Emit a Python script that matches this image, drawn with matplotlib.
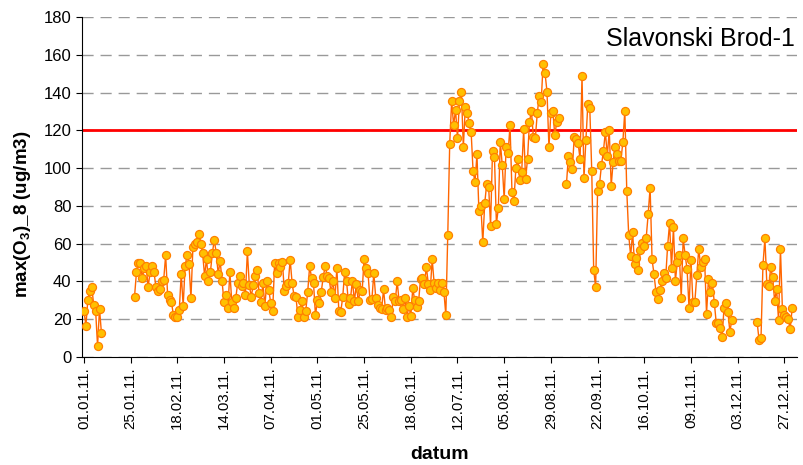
import numpy as np
import pandas as pd
import matplotlib
matplotlib.use('Agg')
import matplotlib.pyplot as plt

station = 'Slavonski Brod-1'
limit_value = 120
nan = np.nan

# daily maximum 8-hour mean O3 for 2011, ug/m3 (nan = no data)
o3_max8 = [
    24.5, 16.6, 30.2, 35.1, 37.2, 27.7, 24.5, 5.8, 25.6, 12.5,
    nan, nan, nan, nan, nan, nan, nan, nan, nan, nan, nan, nan, nan, nan, nan, nan,
    32, 45, 50, 50, 42, 47, 48, 37, 45, 48,
    45, 37, 35, 36, 40, 41, 54, 33, 30, 29,
    22, 21, 21, 25, 44, 27, 48, 54, 49, 31,
    58, 60, 61, 65, 60, 55, 43, 52, 40, 45,
    55, 62, 55, 44, 51, 40, 29, 33, 26, 45,
    29, 26, 31, 39, 43, 37.5, 39, 33, 56, 38,
    32, 38, 43, 46, 34, 29, 39, 27, 40, 35.5,
    28.6, 24.4, 49.7, 44.4, 50, 47.7, 50.3, 35, 37.5, 39,
    51.6, 39, 32.3, 31.6, 21, 25, 29.8, 21.4, 24.4, 34.3,
    48, 42, 39, 22, 30, 28.6, 34.6, 42.6, 48, 43,
    41.6, 34.3, 40, 31, 47, 24.4, 24, 31.6, 45, 40,
    28, 31, 40.5, 29.4, 38.6, 29.4, 35.5, 35, 52, 47,
    44.6, 30.2, 30.5, 44.4, 31, 27.4, 26, 25.5, 35.8, 24.7,
    26, 24.7, 21.4, 31.6, 29.8, 40, 29.4, 30.2, 25.2, 31,
    21, 27, 21.7, 36.3, 30.2, 26.5, 29.4, 41.2, 41.7, 38.5,
    47.8, 38.6, 35.5, 51.7, 39, 36.3, 39.2, 35.5, 39, 34.6,
    22.2, 64.6, 113, 135.5, 122.8, 130.8, 115.8, 135.5, 140.5, 111,
    132.2, 129, 123.7, 119.3, 98.6, 92.4, 107.3, 77.4, 80.2, 60.7,
    81.4, 91.6, 90.2, 69.6, 109.1, 105.7, 70.5, 78.8, 114, 101.6,
    83.5, 111.3, 107.8, 122.8, 87.5, 82.8, 99.9, 104.6, 93.7, 98.1,
    120.5, 94, 105, 124.6, 130.4, 116.3, 115.8, 129, 138.2, 134.8,
    155, 150.2, 140.5, 111, 129.4, 130.4, 117.5, 124.2, 126.3, nan,
    nan, nan, 91.5, 106.4, 103.4, 99.4, 116.3, 115.2, 113.1, 104.8,
    148.7, 94.5, 114.9, 133.9, 131.6, 98.6, 46, 37.2, 88, 91.6,
    101.6, 109, 119.3, 106.4, 120.2, 90.5, 103.4, 111, 107.5, 104,
    104, 114, 130.4, 88.1, 64.6, 53.5, 66, 49.2, 52.2, 46,
    56.6, 60.5, 58.9, 63.2, 75.6, 89.6, 51.7, 43.8, 34.6, 30.6,
    35.5, 40, 44.3, 42, 58.8, 70.8, 47, 68.6, 40.4, 50.5,
    54, 31.4, 62.8, 54, 46.4, 26.2, 51.4, 29, 29.3, 43.4,
    57.2, 47.8, 50.5, 51.9, 22.8, 41.1, 34.2, 39, 28.8, 17.9,
    18.2, 15.5, 10.4, 26.2, 28.8, 23.7, 13.4, 19.6, nan, nan,
    nan, nan, nan, nan, nan, nan, nan, nan, nan, nan,
    18.5, 9, 10, 48.7, 62.8, 38.7, 37.6, 47.5, 42.2, 29.6,
    36, 19.6, 57.2, 25.3, 22.3, 21, 20, 14.7, 25.8,
]
assert len(o3_max8) == 365

dates = pd.date_range('2011-01-01', periods=len(o3_max8), freq='D')
tick_dates = dates[::24]
tick_labels = [d.strftime('%d.%m.%y.') for d in tick_dates]

plt.rcParams['font.family'] = ['Liberation Sans', 'DejaVu Sans']
plt.rcParams['mathtext.fontset'] = 'custom'
plt.rcParams['mathtext.rm'] = 'Liberation Sans'
plt.rcParams['mathtext.bf'] = 'Liberation Sans:bold'

fig = plt.figure(figsize=(8.04, 4.65), dpi=100)
ax = fig.add_axes([82 / 804, 1 - 357 / 465, (797 - 82) / 804, 340 / 465])

ax.plot(dates, o3_max8, color='#FF6600', lw=1.0, marker='o', ms=5.8,
        mfc='#FFC000', mec='#FF8000', mew=0.9, zorder=3)
ax.axhline(limit_value, color='#FF0000', lw=2, zorder=2)

ax.set_ylim(0, 180)
ax.set_yticks(range(0, 181, 20))
ax.set_xlim(dates[0] - pd.Timedelta(days=1), dates[-1] + pd.Timedelta(days=2.5))
ax.set_xticks(tick_dates)
ax.set_xticklabels(tick_labels, rotation=90, fontsize=10.8)
ax.tick_params(axis='y', labelsize=12, length=4, direction='out')
ax.tick_params(axis='x', length=4, direction='out')

ax.grid(axis='y', linestyle=(0, (8, 5)), color='#999999', lw=1)
ax.set_axisbelow(True)
for side in ['top', 'right']:
    ax.spines[side].set_visible(False)

ax.set_xlabel('datum', fontsize=14, weight='bold', labelpad=12)
ax.set_ylabel(r'max(O$_\mathbf{3}$)_8 (ug/m3)', fontsize=13.5, weight='bold')
ax.yaxis.set_label_coords(-0.068, 0.42)
ax.text(0.997, 0.935, station, transform=ax.transAxes, ha='right', va='center',
        fontsize=18)

fig.savefig('out.png', dpi=100)
